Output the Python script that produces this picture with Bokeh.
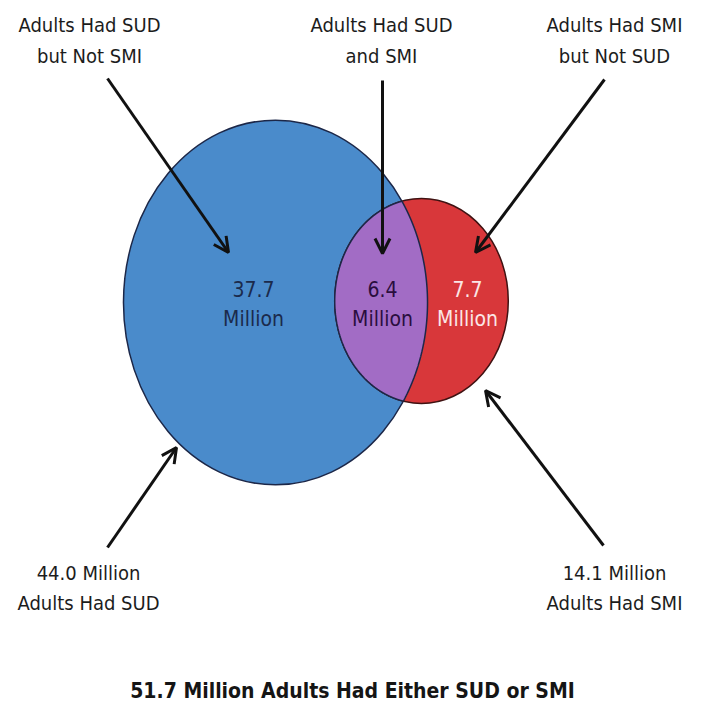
import numpy as np
from bokeh.plotting import figure
from bokeh.models import Range1d, Arrow, OpenHead, ColumnDataSource
from bokeh.core.properties import value
from bokeh.embed import file_html
from bokeh.resources import INLINE

# ---------------- data ----------------
region_values = [37.7, 6.4, 7.7]          # SUD only, SUD and SMI, SMI only (millions)
total_values = [44.0, 14.1]               # SUD total, SMI total (millions)
either_value = 51.7                       # SUD or SMI (millions)
top_label_line1 = ["Adults Had SUD", "Adults Had SUD", "Adults Had SMI"]
top_label_line2 = ["but Not SMI", "and SMI", "but Not SUD"]
bottom_label_line2 = ["Adults Had SUD", "Adults Had SMI"]

# ---------------- layout (reference pixel space) ----------------
W, H = 685, 701
FONT = "'DejaVu Sans Condensed', 'Liberation Sans Narrow', sans-serif"
AREA_PER_MILLION = 1980.0          # px^2 per million adults (area-proportional ellipses)
ASPECT = [1.2, 1.18]               # height/width of the two ellipses
centers_x = [275, 421]
centers_y = [302, 300.5]

semi_a, semi_b = [], []
for tot, asp in zip(total_values, ASPECT):
    ab = AREA_PER_MILLION * tot / np.pi
    a = np.sqrt(ab / asp)
    semi_a.append(a)
    semi_b.append(a * asp)

p = figure(width=W, height=H, output_backend="svg", toolbar_location=None,
           x_range=Range1d(0, W), y_range=Range1d(H, 0),
           min_border=0, border_fill_color="white", background_fill_color="white")
p.axis.visible = False
p.grid.visible = False
p.outline_line_color = None

BLUE = "#4a8bcb"
RED = "#d8373a"
PURPLE = "#a26cc5"
EDGE = "#1c2748"
RED_EDGE = "#3f1212"

# SUD ellipse
p.ellipse(x=[centers_x[0]], y=[centers_y[0]], width=[2 * semi_a[0]], height=[2 * semi_b[0]],
          fill_color=BLUE, line_color=EDGE, line_width=1.5)
# SMI ellipse
p.ellipse(x=[centers_x[1]], y=[centers_y[1]], width=[2 * semi_a[1]], height=[2 * semi_b[1]],
          fill_color=RED, line_color=RED_EDGE, line_width=1.5)

# intersection (purple) region
def inside(x, y, i):
    return ((x - centers_x[i]) / semi_a[i]) ** 2 + ((y - centers_y[i]) / semi_b[i]) ** 2 <= 1.0

t_red = np.linspace(0, 2 * np.pi, 3000)
rx = centers_x[1] + semi_a[1] * np.cos(t_red)
ry = centers_y[1] + semi_b[1] * np.sin(t_red)
m_r = inside(rx, ry, 0)
t_blue = np.linspace(-np.pi, np.pi, 3000)
bx = centers_x[0] + semi_a[0] * np.cos(t_blue)
by = centers_y[0] + semi_b[0] * np.sin(t_blue)
m_b = inside(bx, by, 1)
px = np.concatenate([rx[m_r], bx[m_b]])
py = np.concatenate([ry[m_r], by[m_b]])
p.patch(px, py, fill_color=PURPLE, line_color=EDGE, line_width=1.5)

LABEL_SIZE = "20px"
TB = "middle"
TXT = "#1c1c1c"

# region value labels
reg_x = [253, 382, 467]
reg_col = ["#1b2a4c", "#2a0e3e", "#fbe6e6"]
src_v = ColumnDataSource(dict(x=reg_x, y=[288] * 3, t=[f"{v:.1f}" for v in region_values], c=reg_col))
src_m = ColumnDataSource(dict(x=reg_x, y=[318] * 3, t=["Million"] * 3, c=reg_col))
for s in (src_v, src_m):
    p.text(x="x", y="y", text="t", source=s, text_color="c", text_align="center",
           text_baseline=TB, text_font=value(FONT), text_font_size="21px")

# top labels
top_x = [89, 381, 614]
p.text(x=top_x, y=[24] * 3, text=top_label_line1, text_align="center", text_baseline=TB,
       text_font=value(FONT), text_font_size=LABEL_SIZE, text_color=TXT)
p.text(x=top_x, y=[55] * 3, text=top_label_line2, text_align="center", text_baseline=TB,
       text_font=value(FONT), text_font_size=LABEL_SIZE, text_color=TXT)

# bottom labels
bot_x = [88, 614]
p.text(x=bot_x, y=[572] * 2, text=[f"{v:.1f} Million" for v in total_values], text_align="center",
       text_baseline=TB, text_font=value(FONT), text_font_size=LABEL_SIZE, text_color=TXT)
p.text(x=bot_x, y=[602] * 2, text=bottom_label_line2, text_align="center", text_baseline=TB,
       text_font=value(FONT), text_font_size=LABEL_SIZE, text_color=TXT)

# title
p.text(x=[352], y=[690], text=[f"{either_value:.1f} Million Adults Had Either SUD or SMI"],
       text_align="center", text_baseline=TB, text_font=value(FONT),
       text_font_size="21px", text_font_style="bold", text_color="#151515")

# arrows
arrows = [((107, 78), (228, 252)),
          ((382, 80), (382, 253)),
          ((604, 79), (475, 252)),
          ((107, 547), (176, 447)),
          ((603, 545), (485, 390))]
for (x0, y0), (x1, y1) in arrows:
    p.add_layout(Arrow(end=OpenHead(size=15, line_width=3, line_color="#111111"),
                       x_start=x0, y_start=y0, x_end=x1, y_end=y1,
                       line_width=3, line_color="#111111"))

open("out.html", "w").write(file_html(p, INLINE))
